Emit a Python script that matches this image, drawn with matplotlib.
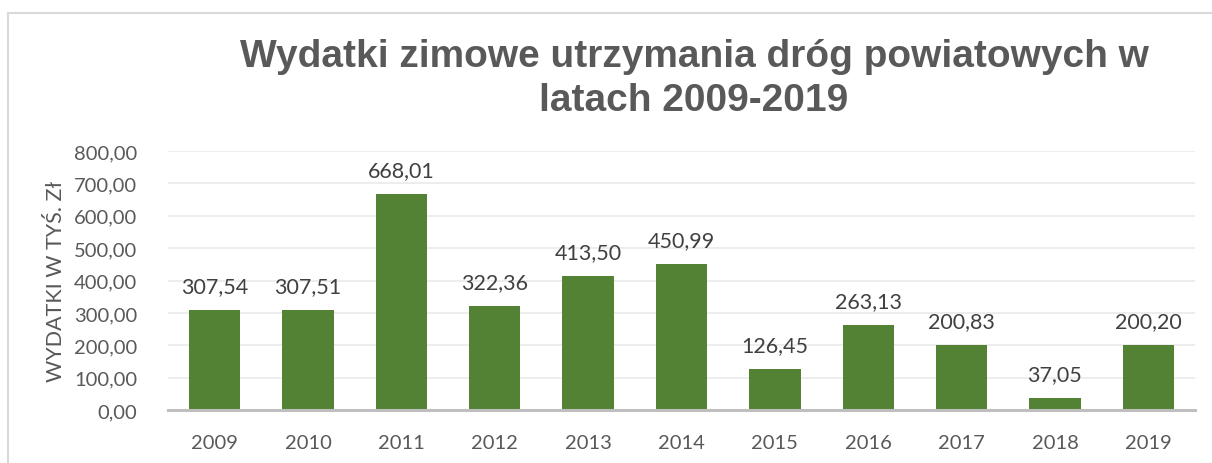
import numpy as np
import matplotlib.pyplot as plt
from matplotlib.lines import Line2D
from matplotlib.ticker import FuncFormatter

years = ["2009", "2010", "2011", "2012", "2013", "2014",
         "2015", "2016", "2017", "2018", "2019"]
expenses = [307.54, 307.51, 668.01, 322.36, 413.50, 450.99,
            126.45, 263.13, 200.83, 37.05, 200.20]

W, H = 1212, 464
fig = plt.figure(figsize=(W / 100, H / 100), dpi=100)
fig.patch.set_facecolor("white")

# plot area in pixel terms: x 168..1195, y 152..411
ax = fig.add_axes([168 / W, 1 - 411 / H, (1195 - 168) / W, (411 - 152) / H])

def fmt(v):
    return f"{v:,.2f}".replace(",", " ").replace(".", ",")

x = np.arange(len(years))
ax.bar(x, expenses, width=0.55, color="#548235", zorder=3)

for xi, v in zip(x, expenses):
    ax.annotate(fmt(v), (xi, v), xytext=(0, 10), textcoords="offset points",
                ha="center", va="bottom", fontsize=15.5, color="#404040",
                family="Lato")

ax.set_xlim(-0.5, len(years) - 0.5)
ax.set_ylim(0, 800)
ax.set_yticks(np.arange(0, 801, 100))
ax.yaxis.set_major_formatter(FuncFormatter(lambda v, p: fmt(v)))
ax.set_xticks(x)
ax.set_xticklabels(years)

ax.grid(axis="y", color="#ececec", linewidth=1.3, zorder=0)
for s in ["top", "right", "left"]:
    ax.spines[s].set_visible(False)
ax.spines["bottom"].set_color("#bfbfbf")
ax.spines["bottom"].set_linewidth(2.2)
ax.spines["bottom"].set_zorder(4)

ax.tick_params(axis="both", length=0, labelsize=14.5, labelcolor="#595959")
ax.tick_params(axis="y", pad=22)
ax.tick_params(axis="x", pad=17)
for lbl in ax.get_xticklabels() + ax.get_yticklabels():
    lbl.set_family("Lato")

ax.set_ylabel("WYDATKI W TYŚ. Zł", fontsize=15.5, color="#595959",
              family="Lato", labelpad=6)

fig.text(694 / W, 1 - 79 / H,
         "Wydatki zimowe utrzymania dróg powiatowych w\nlatach 2009-2019",
         ha="center", va="center", fontsize=28, fontweight="bold",
         color="#595959", family="Liberation Sans", linespacing=1.3)

# chart frame edges
fig.add_artist(Line2D([8 / W, 1.0], [1 - 14 / H, 1 - 14 / H],
                      color="#d9d9d9", linewidth=1.5))
fig.add_artist(Line2D([8 / W, 8 / W], [0.0, 1 - 14 / H],
                      color="#d9d9d9", linewidth=1.5))

fig.savefig("out.png", dpi=100)
